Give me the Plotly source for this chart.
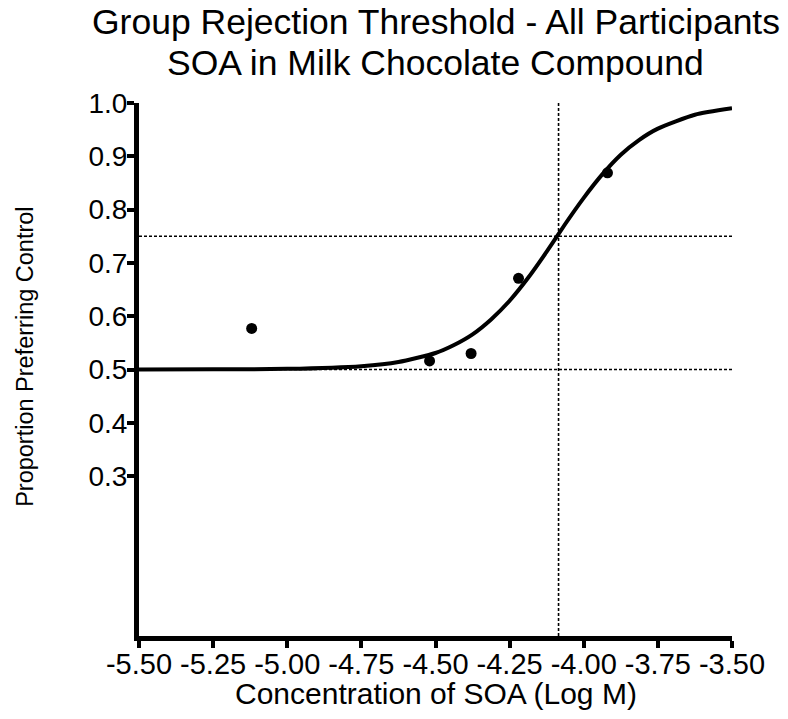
import plotly.graph_objects as go

# Data points (log M concentration vs proportion preferring control)
conc_log = [-5.12, -4.52, -4.38, -4.22, -3.92]
proportion = [0.577, 0.516, 0.530, 0.671, 0.869]

# Fitted curve
curve_x = [-5.5, -5.25, -5.0, -4.75, -4.625, -4.5, -4.4375, -4.375, -4.3125, -4.25, -4.1875,
           -4.125, -4.0625, -4.0, -3.9375, -3.875, -3.8125, -3.75, -3.625, -3.5]
curve_y = [0.5, 0.5003, 0.5012, 0.5063, 0.514, 0.531, 0.546, 0.566, 0.594, 0.629, 0.672,
           0.721, 0.773, 0.822, 0.866, 0.903, 0.931, 0.952, 0.978, 0.990]

# Reference lines
chance_level = 0.5
threshold_level = 0.75
threshold_x = -4.085

x_ticks = [-5.5, -5.25, -5.0, -4.75, -4.5, -4.25, -4.0, -3.75, -3.5]
x_tick_labels = ["-5.50", "-5.25", "-5.00", "-4.75", "-4.50", "-4.25", "-4.00", "-3.75", "-3.50"]
y_ticks = [0.3, 0.4, 0.5, 0.6, 0.7, 0.8, 0.9, 1.0]
y_tick_labels = ["0.3", "0.4", "0.5", "0.6", "0.7", "0.8", "0.9", "1.0"]

title_lines = ["Group Rejection Threshold - All Participants", "SOA in Milk Chocolate Compound"]
x_title = "Concentration of SOA (Log M)"
y_title = "Proportion Preferring Control"

FONT = "Liberation Sans, Arial, sans-serif"

fig = go.Figure()

dot = dict(color="black", width=1.6, dash="3px,2px")
fig.add_trace(go.Scatter(x=[-5.5, -3.5], y=[threshold_level, threshold_level], mode="lines",
                         line=dot, hoverinfo="skip", showlegend=False))
fig.add_trace(go.Scatter(x=[-5.5, -3.5], y=[chance_level, chance_level], mode="lines",
                         line=dot, hoverinfo="skip", showlegend=False))
fig.add_trace(go.Scatter(x=[threshold_x, threshold_x], y=[0, 1.0], mode="lines",
                         line=dot, hoverinfo="skip", showlegend=False))

fig.add_trace(go.Scatter(x=curve_x, y=curve_y, mode="lines",
                         line=dict(color="black", width=4, shape="spline", smoothing=0.6),
                         showlegend=False))
fig.add_trace(go.Scatter(x=conc_log, y=proportion, mode="markers",
                         marker=dict(color="black", size=11), showlegend=False))

annotations = [
    dict(text=title_lines[0], xref="paper", yref="paper", x=0.5, y=1.152, xanchor="center",
         yanchor="middle", showarrow=False, font=dict(size=35.5, family=FONT, color="black")),
    dict(text=title_lines[1], xref="paper", yref="paper", x=0.5, y=1.075, xanchor="center",
         yanchor="middle", showarrow=False, font=dict(size=35.5, family=FONT, color="black")),
    dict(text=x_title, xref="paper", yref="paper", x=0.5, y=-0.107, xanchor="center",
         yanchor="middle", showarrow=False, font=dict(size=30, family=FONT, color="black")),
    dict(text=y_title, xref="paper", yref="paper", x=-0.192, y=0.524, xanchor="center",
         yanchor="middle", textangle=-90, showarrow=False,
         font=dict(size=23.5, family=FONT, color="black")),
]

fig.update_layout(
    width=788, height=719,
    margin=dict(l=139, r=56, t=103, b=83),
    paper_bgcolor="white", plot_bgcolor="white",
    font=dict(family=FONT, color="black"),
    annotations=annotations,
    showlegend=False,
)
fig.update_xaxes(
    range=[-5.5, -3.5], tickvals=x_ticks, ticktext=x_tick_labels,
    showgrid=False, zeroline=False,
    showline=True, linecolor="black", linewidth=5,
    ticks="outside", ticklen=7, tickwidth=4, tickcolor="black",
    tickfont=dict(size=29, family=FONT), ticklabelstandoff=-9,
)
fig.update_yaxes(
    range=[0, 1.0], tickvals=y_ticks, ticktext=y_tick_labels,
    showgrid=False, zeroline=False,
    showline=True, linecolor="black", linewidth=5,
    ticks="outside", ticklen=7, tickwidth=4, tickcolor="black",
    tickfont=dict(size=28, family=FONT), ticklabelstandoff=-6,
)

fig.write_html("out.html", config={"displayModeBar": False},
               post_script="document.body.style.margin='0px';")
